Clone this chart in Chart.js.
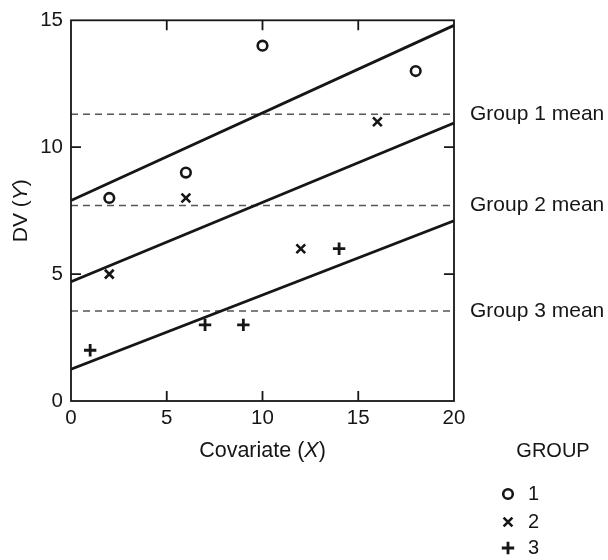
<!DOCTYPE html>
<html>
<head>
<meta charset="utf-8">
<script src="https://cdn.jsdelivr.net/npm/chart.js@4/dist/chart.umd.min.js"></script>
<style>
  html, body { margin: 0; padding: 0; background: #fff; }
  #wrap { width: 608px; height: 560px; }
</style>
</head>
<body>
<div id="wrap"><canvas id="grafica" width="608" height="560"></canvas></div>
<script>
// ===============================
// DATOS
// ===============================
const xTicks = [0, 5, 10, 15, 20];
const yTicks = [0, 5, 10, 15];

const groups = ["1", "2", "3"];

const g1X = [2, 6, 10, 18];
const g1Y = [8, 9, 14, 13];
const g2X = [2, 6, 12, 16];
const g2Y = [5, 8, 6, 11];
const g3X = [1, 7, 9, 14];
const g3Y = [2, 3, 3, 6];

// medias por grupo (lineas discontinuas)
const groupMeans = [11.3, 7.7, 3.55];
const meanLabels = ["Group 1 mean", "Group 2 mean", "Group 3 mean"];

// rectas de regresion: valor en X=0 y en X=20
const fitX = [0, 20];
const fitStart = [7.9, 4.7, 1.25];
const fitEnd = [14.8, 10.95, 7.1];

const FONT = "'Liberation Sans', Arial, Helvetica, sans-serif";
const INK = "#161616";

const pointStyles = [
  { pointStyle: "circle",   radius: 4.8, borderWidth: 2.6, rotation: 0 },
  { pointStyle: "crossRot", radius: 6.2, borderWidth: 2.6, rotation: 0 },
  { pointStyle: "cross",    radius: 6.2, borderWidth: 2.8, rotation: 0 }
];

const pts = (xs, ys) => xs.map((x, i) => ({ x, y: ys[i] }));

const datasets = [];

// rectas
groups.forEach((g, i) => {
  datasets.push({
    type: "line",
    data: [{ x: fitX[0], y: fitStart[i] }, { x: fitX[1], y: fitEnd[i] }],
    borderColor: INK, borderWidth: 2.8, pointRadius: 0, fill: false
  });
});

// medias
groupMeans.forEach(m => {
  datasets.push({
    type: "line",
    data: [{ x: 0, y: m }, { x: 20, y: m }],
    borderColor: "#555", borderWidth: 1.5, borderDash: [7, 5],
    pointRadius: 0, fill: false
  });
});

// puntos
[[g1X, g1Y], [g2X, g2Y], [g3X, g3Y]].forEach(([xs, ys], i) => {
  const s = pointStyles[i];
  datasets.push({
    type: "scatter",
    label: groups[i],
    data: pts(xs, ys),
    pointStyle: s.pointStyle,
    pointRadius: s.radius,
    pointBorderWidth: s.borderWidth,
    pointBorderColor: INK,
    pointBackgroundColor: "rgba(0,0,0,0)",
    borderColor: INK,
    backgroundColor: "rgba(0,0,0,0)"
  });
});

// ===============================
// TEXTO MIXTO (normal + italica)
// ===============================
function mixedText(ctx, parts, cx, cy, size) {
  const widths = parts.map(p => {
    ctx.font = (p.italic ? "italic " : "") + size + "px " + FONT;
    return ctx.measureText(p.t).width;
  });
  const total = widths.reduce((a, b) => a + b, 0);
  let x = cx - total / 2;
  ctx.textAlign = "left";
  ctx.textBaseline = "middle";
  parts.forEach((p, i) => {
    ctx.font = (p.italic ? "italic " : "") + size + "px " + FONT;
    ctx.fillText(p.t, x, cy);
    x += widths[i];
  });
}

function marker(ctx, s, x, y) {
  ctx.save();
  ctx.strokeStyle = INK;
  ctx.fillStyle = "rgba(0,0,0,0)";
  ctx.lineWidth = s.borderWidth;
  Chart.helpers.drawPoint(ctx, s, x, y);
  ctx.restore();
}

// ===============================
// MARCO, TICKS INTERIORES Y ROTULOS
// ===============================
const extras = {
  id: "extras",
  afterDraw(chart) {
    const { ctx, chartArea: a, scales } = chart;
    const sx = scales.x, sy = scales.y;
    ctx.save();

    // marco
    ctx.strokeStyle = INK;
    ctx.lineWidth = 1.8;
    ctx.strokeRect(a.left, a.top, a.right - a.left, a.bottom - a.top);

    // ticks hacia dentro
    const tl = 10;
    ctx.beginPath();
    xTicks.slice(1, -1).forEach(v => {
      const px = sx.getPixelForValue(v);
      ctx.moveTo(px, a.bottom); ctx.lineTo(px, a.bottom - tl);
      ctx.moveTo(px, a.top);    ctx.lineTo(px, a.top + tl);
    });
    yTicks.slice(1, -1).forEach(v => {
      const py = sy.getPixelForValue(v);
      ctx.moveTo(a.left, py);  ctx.lineTo(a.left + tl, py);
      ctx.moveTo(a.right, py); ctx.lineTo(a.right - tl, py);
    });
    ctx.stroke();

    ctx.fillStyle = INK;

    // etiquetas de medias
    ctx.font = "21px " + FONT;
    ctx.textAlign = "left";
    ctx.textBaseline = "middle";
    groupMeans.forEach((m, i) => {
      ctx.fillText(meanLabels[i], a.right + 16, sy.getPixelForValue(m));
    });

    // titulos de ejes
    mixedText(ctx, [{ t: "Covariate (" }, { t: "X", italic: true }, { t: ")" }],
      (a.left + a.right) / 2, 451, 21.5);

    ctx.save();
    ctx.translate(21, (a.top + a.bottom) / 2);
    ctx.rotate(-Math.PI / 2);
    mixedText(ctx, [{ t: "DV (" }, { t: "Y", italic: true }, { t: ")" }], 0, 0, 21);
    ctx.restore();

    // leyenda
    ctx.font = "20px " + FONT;
    ctx.textAlign = "center";
    ctx.fillText("GROUP", 553, 451);
    const rowY = [494, 522, 548];
    groups.forEach((g, i) => {
      marker(ctx, pointStyles[i], 508, rowY[i]);
      ctx.fillStyle = INK;
      ctx.font = "20px " + FONT;
      ctx.textAlign = "left";
      ctx.textBaseline = "middle";
      ctx.fillText(g, 528, rowY[i]);
    });

    ctx.restore();
  }
};

const ctx = document.getElementById("grafica").getContext("2d");

new Chart(ctx, {
  type: "scatter",
  data: { datasets },
  options: {
    responsive: false,
    animation: false,
    events: [],
    layout: { padding: { left: 0, top: 18, right: 154, bottom: 0 } },
    plugins: {
      legend: { display: false },
      tooltip: { enabled: false }
    },
    scales: {
      x: {
        type: "linear", min: 0, max: 20,
        afterBuildTicks: s => { s.ticks = xTicks.map(v => ({ value: v })); },
        afterFit: s => { s.height = 159; },
        grid: { display: false, drawTicks: false },
        border: { display: false },
        ticks: { color: INK, padding: 5, font: { family: FONT, size: 20.5 } }
      },
      y: {
        type: "linear", min: 0, max: 15,
        afterBuildTicks: s => { s.ticks = yTicks.map(v => ({ value: v })); },
        afterFit: s => { s.width = 71; },
        grid: { display: false, drawTicks: false },
        border: { display: false },
        ticks: { color: INK, padding: 8, font: { family: FONT, size: 20.5 } }
      }
    }
  },
  plugins: [extras]
});
</script>
</body>
</html>
